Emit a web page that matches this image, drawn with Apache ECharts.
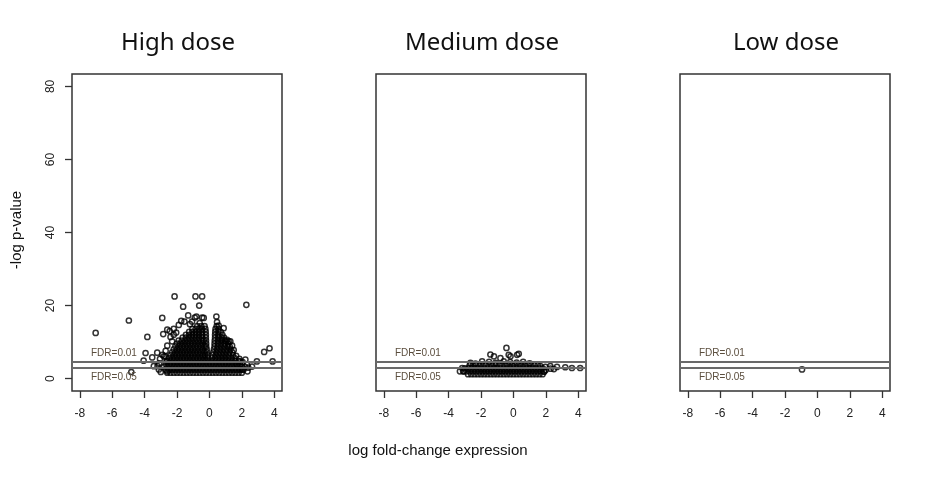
<!DOCTYPE html>
<html>
<head>
<meta charset="utf-8">
<script src="https://cdn.jsdelivr.net/npm/echarts@6/dist/echarts.min.js"></script>
<style>
html, body { margin: 0; padding: 0; background: #fff; }
#chart { width: 929px; height: 482px; }
</style>
</head>
<body>
<div id="chart"></div>
<script>
// panel texts and ticks
var panelTitles = ['High dose', 'Medium dose', 'Low dose'];
var xTicks = [-8, -6, -4, -2, 0, 2, 4];
var yTicks = [0, 20, 40, 60, 80];
var fdrLines = [4.6, 2.9];
var fdrLabels = ['FDR=0.01', 'FDR=0.05'];

// High dose: dense core read row by row (y level -> x positions), plus the loose points
var highRowY = [1.6, 2.4, 3.2, 4.0, 4.8, 5.6, 6.4, 7.2, 8.0, 8.8, 9.6, 10.4, 11.2, 12.0, 12.8, 13.6, 14.4];
var highRowX = [
    [-2.6, -2.4, -2.2, -2.0, -1.8, -1.6, -1.4, -1.2, -1.0, -0.8, -0.6, -0.4, -0.2, 0, 0.2, 0.4, 0.6, 0.8, 1.0, 1.2, 1.4, 1.6, 1.8, 2.0],
    [-2.7, -2.5, -2.3, -2.1, -1.9, -1.7, -1.5, -1.3, -1.1, -0.9, -0.7, -0.5, -0.3, -0.1, 0.1, 0.3, 0.5, 0.7, 0.9, 1.1, 1.3, 1.5, 1.7, 1.9, 2.1],
    [-2.8, -2.6, -2.4, -2.2, -2.0, -1.8, -1.6, -1.4, -1.2, -1.0, -0.8, -0.6, -0.4, -0.2, 0, 0.2, 0.4, 0.6, 0.8, 1.0, 1.2, 1.4, 1.6, 1.8, 2.0, 2.2],
    [-2.7, -2.5, -2.3, -2.1, -1.9, -1.7, -1.5, -1.3, -1.1, -0.9, -0.7, -0.5, -0.3, -0.1, 0.1, 0.3, 0.5, 0.7, 0.9, 1.1, 1.3, 1.5, 1.7, 1.9],
    [-2.6, -2.4, -2.2, -2.0, -1.8, -1.6, -1.4, -1.2, -1.0, -0.8, -0.6, -0.4, -0.2, 0, 0.2, 0.4, 0.6, 0.8, 1.0, 1.2, 1.4, 1.6, 1.8],
    [-2.5, -2.3, -2.1, -1.9, -1.7, -1.5, -1.3, -1.1, -0.9, -0.7, -0.5, -0.3, -0.1, 0.15, 0.35, 0.55, 0.75, 0.95, 1.15, 1.35, 1.55],
    [-2.4, -2.2, -2.0, -1.8, -1.6, -1.4, -1.2, -1.0, -0.8, -0.6, -0.4, -0.26, -0.12, 0.2, 0.4, 0.6, 0.8, 1.0, 1.2, 1.45],
    [-2.3, -2.1, -1.9, -1.7, -1.5, -1.3, -1.1, -0.9, -0.7, -0.5, -0.3, -0.15, 0.24, 0.44, 0.64, 0.84, 1.04, 1.24, 1.42],
    [-2.2, -2.0, -1.8, -1.6, -1.4, -1.2, -1.0, -0.8, -0.6, -0.4, -0.17, 0.28, 0.48, 0.68, 0.88, 1.08, 1.3],
    [-2.1, -1.9, -1.7, -1.5, -1.3, -1.1, -0.9, -0.7, -0.5, -0.3, -0.2, 0.32, 0.52, 0.72, 0.92, 1.12, 1.25],
    [-2.0, -1.8, -1.6, -1.4, -1.2, -1.0, -0.8, -0.6, -0.4, -0.2, 0.32, 0.52, 0.72, 0.92, 1.15],
    [-1.9, -1.7, -1.5, -1.3, -1.1, -0.9, -0.7, -0.5, -0.35, -0.21, 0.33, 0.53, 0.73, 0.95],
    [-1.65, -1.45, -1.25, -1.05, -0.85, -0.65, -0.45, -0.22, 0.35, 0.55, 0.75, 0.9],
    [-1.45, -1.25, -1.05, -0.85, -0.65, -0.45, -0.22, 0.35, 0.55, 0.8],
    [-1.25, -1.05, -0.85, -0.65, -0.45, -0.23, 0.36, 0.56, 0.7],
    [-1.05, -0.85, -0.65, -0.45, -0.25, 0.38, 0.56],
    [-0.75, -0.5, -0.3, 0.45]
];
var highExtra = [
    [-7.02, 12.5], [-4.97, 15.9], [-4.82, 1.8], [-3.83, 11.4], [-2.91, 16.6], [-2.15, 22.5],
    [-1.62, 19.7], [-0.86, 22.5], [-0.45, 22.5], [-0.63, 20.0], [2.28, 20.2], [3.38, 7.3],
    [3.71, 8.3], [3.9, 4.7], [-3.94, 7.0], [-4.06, 4.9], [-3.53, 5.8], [-3.22, 7.1],
    [-3.43, 3.4], [-3.12, 2.5], [-2.6, 2.0], [-2.81, 6.1], [-2.65, 4.7], [-2.71, 6.1],
    [-2.6, 13.4], [-2.45, 13.0], [-2.2, 13.6], [-2.05, 12.6], [-1.89, 14.7], [-1.74, 15.8],
    [-1.54, 15.6], [-1.31, 17.3], [-1.07, 15.6], [-0.9, 16.7], [-0.8, 17.0], [-0.45, 16.7],
    [-0.35, 16.6], [-0.6, 15.2], [-1.2, 14.9], [0.43, 17.0], [0.47, 15.5], [0.57, 14.5],
    [0.88, 13.8], [0.78, 10.6], [1.05, 10.2], [1.19, 10.2], [1.29, 10.2], [1.09, 10.6],
    [1.4, 9.0], [1.5, 7.8], [1.65, 6.2], [1.85, 5.4], [2.05, 4.5], [-2.4, 11.4],
    [-2.3, 10.2], [-2.6, 9.0], [-2.7, 7.6], [-2.9, 6.5], [-3.05, 5.4], [-3.1, 4.2],
    [-3.2, 3.4], [-3.0, 1.8], [2.35, 2.0], [2.4, 3.0], [-2.85, 12.2], [-2.2, 12.0],
    [2.22, 5.2], [2.32, 3.8], [2.63, 3.3], [2.93, 4.7], [2.01, 2.5], [1.7, 3.8], [1.9, 4.7]
];

// Medium dose
var medRowY = [1.2, 2.0, 2.8, 3.6];
var medRowX = [
    [-2.8, -2.6, -2.4, -2.2, -2.0, -1.8, -1.6, -1.4, -1.2, -1.0, -0.8, -0.6, -0.4, -0.2, 0, 0.2, 0.4, 0.6, 0.8, 1.0, 1.2, 1.4, 1.6, 1.8],
    [-3.1, -2.9, -2.7, -2.5, -2.3, -2.1, -1.9, -1.7, -1.5, -1.3, -1.1, -0.9, -0.7, -0.5, -0.3, -0.1, 0.1, 0.3, 0.5, 0.7, 0.9, 1.1, 1.3, 1.5, 1.7, 1.9],
    [-3.0, -2.8, -2.6, -2.4, -2.2, -2.0, -1.8, -1.6, -1.4, -1.2, -1.0, -0.8, -0.6, -0.4, -0.2, 0, 0.2, 0.4, 0.6, 0.8, 1.0, 1.2, 1.4, 1.6, 1.8],
    [-2.7, -2.5, -2.3, -2.1, -1.9, -1.7, -1.5, -1.3, -1.1, -0.9, -0.7, -0.5, -0.3, -0.1, 0.1, 0.3, 0.5, 0.7, 0.9, 1.1, 1.3, 1.5]
];
var medExtra = [
    [-0.43, 8.4], [-0.29, 6.5], [-1.42, 6.6], [-1.2, 6.1], [0.33, 6.8], [-0.8, 5.6],
    [-0.18, 6.1], [0.23, 6.5], [-2.65, 4.3], [-2.34, 4.1], [-1.93, 4.7], [-1.5, 4.6],
    [-1.1, 4.3], [-0.6, 4.7], [-0.2, 4.5], [0.2, 4.4], [0.6, 4.6], [1.0, 4.2],
    [-3.16, 2.9], [-3.06, 2.0], [-3.3, 2.0], [1.66, 3.4], [1.97, 3.2], [2.28, 3.4],
    [2.69, 3.2], [3.2, 3.1], [3.61, 2.9], [4.12, 2.9], [2.0, 2.4], [2.3, 2.7],
    [1.9, 1.9], [2.5, 2.6]
];

// Low dose
var lowPoints = [[-0.95, 2.5]];

function rowsToPoints(ys, xs, extra) {
    var pts = [];
    for (var r = 0; r < ys.length; r++) {
        for (var k = 0; k < xs[r].length; k++) {
            pts.push([xs[r][k], ys[r]]);
        }
    }
    return pts.concat(extra);
}

var panelData = [
    rowsToPoints(highRowY, highRowX, highExtra),
    rowsToPoints(medRowY, medRowX, medExtra),
    lowPoints
];

var chart = echarts.init(document.getElementById('chart'));
var grids = [], xAxes = [], yAxes = [], titles = [], series = [];
var tickFont = 'Liberation Sans, Arial, sans-serif';

for (var i = 0; i < 3; i++) {
    var left = 72 + 304 * i;
    grids.push({
        left: left, top: 74, width: 210, height: 317,
        show: true, borderColor: '#333', borderWidth: 1.5,
        backgroundColor: 'transparent', containLabel: false
    });
    titles.push({
        text: panelTitles[i], left: left + 101, top: 26, textAlign: 'center',
        textStyle: { fontSize: 24, fontWeight: 'normal', color: '#111', fontFamily: 'Noto Sans' }
    });
    xAxes.push({
        gridIndex: i, type: 'value', min: -8.48, max: 4.48, position: 'bottom',
        axisLine: { show: false, onZero: false }, splitLine: { show: false },
        axisTick: { show: true, length: 7, customValues: xTicks, lineStyle: { color: '#333', width: 1.3 } },
        axisLabel: { customValues: xTicks, color: '#222', fontSize: 12, fontFamily: tickFont, margin: 17 }
    });
    yAxes.push({
        gridIndex: i, type: 'value', min: -3.4, max: 83.4, position: 'left',
        axisLine: { show: false, onZero: false }, splitLine: { show: false },
        axisTick: { show: i === 0, length: 7, customValues: yTicks, lineStyle: { color: '#333', width: 1.3 } },
        axisLabel: { show: i === 0, customValues: yTicks, rotate: 90, color: '#222', fontSize: 12, fontFamily: tickFont, margin: 15 }
    });
    // FDR threshold lines
    series.push({
        type: 'scatter', xAxisIndex: i, yAxisIndex: i, data: [], z: 1,
        markLine: {
            silent: true, symbol: 'none', animation: false,
            lineStyle: { color: '#6a6a6a', width: 2, type: 'solid' },
            label: { color: '#5b4e3e', fontSize: 10, fontFamily: tickFont, distance: [19, 4] },
            data: [
                { yAxis: fdrLines[0], label: { formatter: fdrLabels[0], position: 'insideStartTop' } },
                { yAxis: fdrLines[1], label: { formatter: fdrLabels[1], position: 'insideStartBottom' } }
            ]
        }
    });
    series.push({
        type: 'scatter', xAxisIndex: i, yAxisIndex: i, z: 3, silent: true,
        symbol: 'circle', symbolSize: 5.2,
        itemStyle: { color: 'rgba(0,0,0,0)', borderColor: '#000', borderWidth: 1.5 },
        data: panelData[i]
    });
}

chart.setOption({
    animation: false,
    backgroundColor: '#fff',
    title: titles,
    grid: grids,
    xAxis: xAxes,
    yAxis: yAxes,
    series: series,
    graphic: [
        {
            type: 'text', x: 438, y: 451,
            style: { text: 'log fold-change expression', fontSize: 15, fontFamily: tickFont, fill: '#111', align: 'center', verticalAlign: 'middle' }
        },
        {
            type: 'text', x: 17, y: 230, rotation: Math.PI / 2,
            style: { text: '-log p-value', fontSize: 15, fontFamily: tickFont, fill: '#111', align: 'center', verticalAlign: 'middle' }
        }
    ]
});
</script>
</body>
</html>
